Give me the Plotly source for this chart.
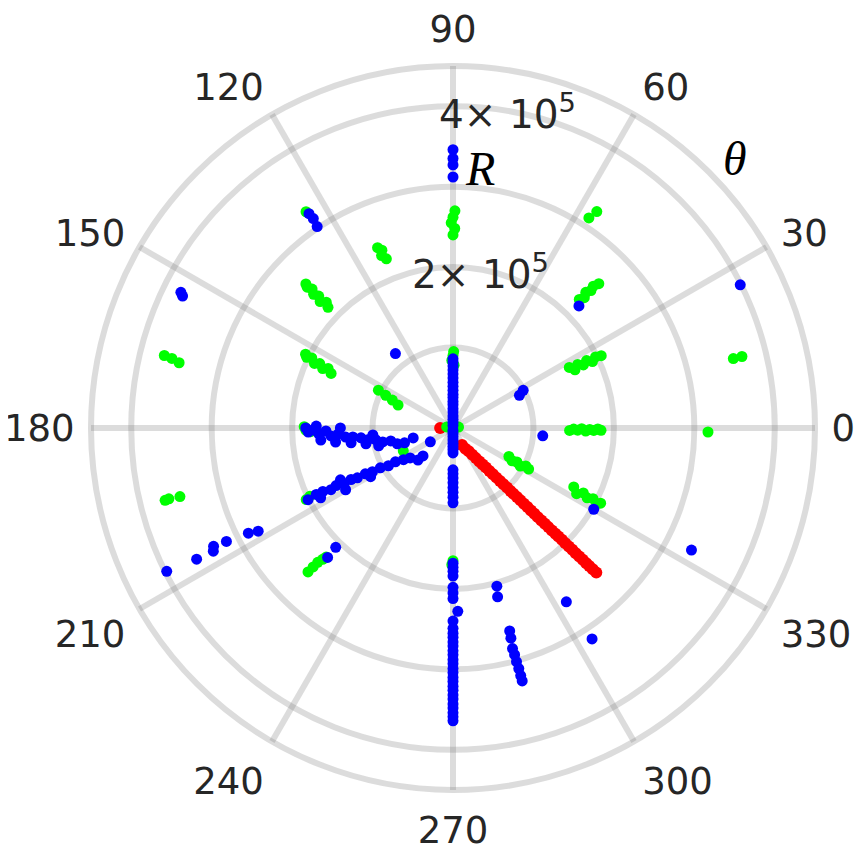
import plotly.graph_objects as go

# radial values are in units of 1e5, angles in degrees
angle_ticks = [0, 30, 60, 90, 120, 150, 180, 210, 240, 270, 300, 330]
radial_ticks = [1, 2, 3, 4]
radial_ticktext = ["", "2\u00d7 10<sup>5</sup>", "", "4\u00d7 10<sup>5</sup>"]

red_theta = [-62.1, -59.0, -55.9, -54.2, -52.8, -51.8, -51.0, -50.3, -49.7, -49.2,
             -48.8, -48.4, -48.1, -47.8, -47.6, -47.4, -47.2, -47.0, -46.9, -46.7,
             -46.6, -46.5, -46.4, -46.3, -46.2, -46.1, -46.0, -45.9, -45.8, -45.75,
             -45.7, -45.65, -45.6, -45.55, -45.5, -45.45, -45.4, -45.35, -45.3, -45.25,
             180]
red_r = [0.24, 0.30, 0.35, 0.41, 0.47, 0.53, 0.585, 0.64, 0.70, 0.76,
         0.82, 0.88, 0.94, 1.00, 1.06, 1.11, 1.17, 1.23, 1.29, 1.35,
         1.41, 1.47, 1.53, 1.59, 1.65, 1.71, 1.77, 1.83, 1.88, 1.94,
         2.00, 2.06, 2.12, 2.18, 2.24, 2.30, 2.36, 2.41, 2.47, 2.53,
         0.16]

green_theta = [89, 91, 90, 89.5,
               90, 89.5, 90.5, 90, 89.5,
               170, 10, 90, 270,
               -1.2, -0.5, -1.0, -0.3, -1.3, -0.6, -1.0, -0.4, -0.9,
               -0.9,
               27.5, 25.5, 27.0, 25.8, 26.8, 25.5, 26.5, 26.0,
               45.5, 44.8, 45.6, 44.9, 45.3, 44.7,
               57.1, 56.4,
               13.9, 13.9,
               -27, -29, -28, -29.5, -27.5, -28.5,
               -26, -28, -26.5, -27.5, -26.8, -27.8, -27,
               111.5, 112.5, 111.8, 112.7,
               136, 135.2, 136.4, 135.5, 136.2, 135.4, 136, 135.6,
               155.9, 154.5, 155.5, 154.2, 155.0, 153.6, 154.2, 153.4,
               165.9, 166.1, 166.6,
               153.1, 154.1, 155.3, 157.3,
               194.1, 194.0, 194.1,
               206.0, 205.5,
               224.8, 224.8, 224.8, 225.2, 225.5,
               204.7,
               180.8, 181.5, 179.5,
               270, 269.5,
               124.2]
green_r = [0.78, 0.84, 0.90, 0.95,
           2.40, 2.48, 2.55, 2.62, 2.70,
           0.08, 0.07, 0.05, 0.04,
           1.45, 1.50, 1.55, 1.60, 1.65, 1.70, 1.75, 1.80, 1.84,
           3.17,
           1.63, 1.68, 1.74, 1.80, 1.86, 1.92, 1.98, 2.05,
           2.24, 2.30, 2.36, 2.42, 2.48, 2.55,
           3.11, 3.23,
           3.59, 3.70,
           0.78, 0.84, 0.90, 0.96, 1.02, 1.07,
           1.67, 1.74, 1.81, 1.88, 1.95, 2.02, 2.06,
           2.26, 2.32, 2.38, 2.43,
           2.16, 2.22, 2.28, 2.34, 2.40, 2.46, 2.52, 2.56,
           1.66, 1.72, 1.78, 1.84, 1.90, 1.96, 2.02, 2.05,
           3.70, 3.60, 3.50,
           1.04, 0.93, 0.83, 0.74,
           3.69, 3.64, 3.50,
           2.03, 1.97,
           2.54, 2.45, 2.37, 2.30, 2.25,
           0.68,
           1.83, 1.77, 1.85,
           1.65, 1.70,
           3.25]

blue_theta = [90] * 19 + [90] * 4 + [270] * 16 + [270] * 30 + [
    180.0, 181.6, 179.2, 180.8, 182.5, 181.3, 185.2, 183.7, 180.0, 183.0,
    186.8, 184.8, 185.1, 188.3, 186.1, 190.3, 187.9, 188.7, 185.0, 193.5,
    191.2, 191.7, 195.9, 197.0, 194.0, 211.3,
    206.3, 205.9, 207.8, 206.0, 206.8, 204.7, 206.2, 207.0, 209.9, 206.8,
    207.5, 207.6, 210.6, 208.5, 208.7, 210.3, 210.4, 212.6, 214.9, 222.4,
    223.0,
    127.7, 123.9, 123.7, 124.0, 153.5, 154.0, 26.5, 44.1, 26.2, 28.2,
    -5.0, -30.0, -27.1, -56.9, -56.6, -74.5, -75.2, -74.4, -74.6, -74.9,
    -74.8, -74.8, -74.7, -74.7, -74.7, 206.6, 207.1, 207.2, 206.3, 206.6,
    207.2, 207.9, 225.5, 225.9, 271.5]
blue_r = [0.03, 0.07, 0.11, 0.15, 0.20, 0.24, 0.29, 0.33, 0.38, 0.42,
          0.47, 0.52, 0.57, 0.62, 0.67, 0.72, 0.77, 0.82, 0.86,
          3.12, 3.27, 3.35, 3.46,
          0.03, 0.07, 0.11, 0.15, 0.19, 0.23, 0.27, 0.31, 0.52, 0.57,
          0.62, 0.68, 0.74, 0.80, 0.86, 0.93,
          1.68, 1.73, 1.78, 1.84, 1.98, 2.05, 2.12, 2.40, 2.49, 2.55,
          2.60, 2.66, 2.71, 2.77, 2.82, 2.88, 2.93, 2.99, 3.04, 3.10,
          3.15, 3.21, 3.26, 3.32, 3.37, 3.43, 3.48, 3.54, 3.59, 3.64,
          1.83, 1.80, 1.70, 1.74, 1.67, 1.58, 1.65, 1.52, 1.40, 1.43,
          1.47, 1.34, 1.25, 1.28, 1.15, 1.10, 1.07, 0.97, 1.00, 0.95,
          0.89, 0.79, 0.72, 0.63, 0.51, 0.33,
          2.01, 1.89, 1.86, 1.80, 1.70, 1.54, 1.62, 1.52, 1.54, 1.42,
          1.34, 1.23, 1.19, 1.14, 1.03, 0.93, 0.83, 0.73, 0.65, 0.59,
          0.51,
          1.17, 3.21, 3.13, 3.02, 3.78, 3.74, 3.99, 2.18, 0.92, 0.99,
          1.12, 2.02, 3.33, 2.58, 3.14, 2.04, 2.17, 2.62, 2.71, 2.84,
          2.92, 3.01, 3.10, 3.19, 3.26, 3.98, 3.58, 3.35, 3.32, 3.15,
          2.86, 2.74, 2.08, 2.24, 2.28]

grid = "rgba(128,128,128,0.28)"

# the page body keeps its default 8px margin, so the figure is a bit smaller
W, H = 855, 846

fig = go.Figure()
fig.add_trace(go.Scatterpolar(r=red_r, theta=red_theta, mode="markers",
                              marker=dict(color="#ff0000", size=12, line_width=0)))
fig.add_trace(go.Scatterpolar(r=green_r, theta=green_theta, mode="markers",
                              marker=dict(color="#00ff00", size=11, line_width=0)))
fig.add_trace(go.Scatterpolar(r=blue_r, theta=blue_theta, mode="markers",
                              marker=dict(color="#0000ff", size=11, line_width=0)))

fig.update_layout(
    width=W, height=H,
    margin=dict(l=0, r=0, t=0, b=0),
    paper_bgcolor="white",
    showlegend=False,
    font=dict(family="DejaVu Sans", color="#262626"),
    polar=dict(
        domain=dict(x=[83 / W, 807 / W], y=[1 - 782 / H, 1 - 58 / H]),
        bgcolor="white",
        radialaxis=dict(range=[0, 4.5], tickvals=radial_ticks, showticklabels=False,
                        ticks="", showline=False, gridcolor=grid, gridwidth=6,
                        layer="below traces"),
        angularaxis=dict(tickvals=angle_ticks, direction="counterclockwise", rotation=0,
                         gridcolor=grid, gridwidth=6, showline=True, linecolor=grid,
                         linewidth=6, ticks="outside", ticklen=6, tickcolor="rgba(0,0,0,0)",
                         tickfont=dict(size=37, family="DejaVu Sans", color="#262626"),
                         layer="below traces"),
    ),
)

# radial tick labels, drawn matplotlib-style along the 90 degree spoke
label_pos = {2: (472, 264), 4: (499, 104)}
for val, txt in zip(radial_ticks, radial_ticktext):
    if txt:
        px, py = label_pos[val]
        fig.add_annotation(x=px / W, y=1 - py / H, xref="paper", yref="paper", text=txt,
                           showarrow=False, xanchor="center", yanchor="middle",
                           font=dict(size=39, family="DejaVu Sans", color="#262626"))

fig.add_annotation(x=472 / W, y=1 - 160 / H, xref="paper", yref="paper",
                   text="<i>R</i>", showarrow=False, xanchor="center", yanchor="middle",
                   font=dict(size=48, family="Liberation Serif", color="black"))
fig.add_annotation(x=727 / W, y=1 - 151 / H, xref="paper", yref="paper",
                   text="<i>\u03b8</i>", showarrow=False, xanchor="center", yanchor="middle",
                   font=dict(size=48, family="Liberation Serif", color="black"))

fig.write_html("out.html")
